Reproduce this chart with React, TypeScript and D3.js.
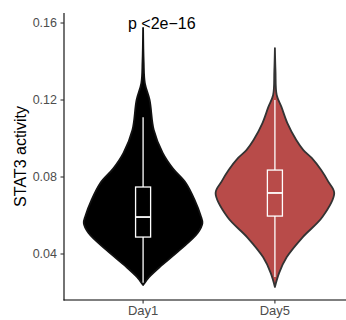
import React from "react";
import * as d3 from "d3";

const categories = ["Day1", "Day5"];
const fills = ["#000000", "#B84B49"];

// violin profiles: value and relative density (max = 1)
const day1Values = [0.0239, 0.026, 0.028, 0.0332, 0.0421, 0.0509, 0.056, 0.06, 0.068, 0.0769, 0.0845, 0.0925, 0.1044, 0.12, 0.1288, 0.14, 0.1574];
const day1Density = [0, 0.05, 0.1, 0.28, 0.62, 0.92, 1, 0.97, 0.87, 0.72, 0.5, 0.33, 0.18, 0.11, 0.03, 0.01, 0];
const day5Values = [0.0229, 0.0301, 0.0384, 0.0488, 0.0592, 0.0717, 0.0776, 0.0836, 0.0899, 0.094, 0.0992, 0.108, 0.1164, 0.1226, 0.135, 0.147];
const day5Density = [0, 0.07, 0.2, 0.47, 0.8, 1, 0.9, 0.78, 0.62, 0.48, 0.36, 0.21, 0.11, 0.03, 0.01, 0];

// box stats: [whiskerLow, q1, median, q3, whiskerHigh]
const day1Box = [0.025, 0.0488, 0.0592, 0.0748, 0.111];
const day5Box = [0.028, 0.0597, 0.0717, 0.0836, 0.12];

const yTicks = [0.04, 0.08, 0.12, 0.16];
const yTickLabels = ["0.04", "0.08", "0.12", "0.16"];
const pLabel = "p <2e\u221216";
const yTitle = "STAT3 activity";

const W = 346;
const H = 320;

export default function App() {
  const x = d3.scalePoint<string>().domain(categories).range([64, 354]).padding(0.6);
  const y = d3.scaleLinear().domain([0.0161, 0.1652]).range([300, 13]);
  const step = x.step();
  const halfW = d3.scaleLinear().domain([0, 1]).range([0, step * 0.45]);
  const boxHalf = step * 0.057;

  const profiles = [
    { values: day1Values, dens: day1Density, box: day1Box },
    { values: day5Values, dens: day5Density, box: day5Box },
  ];

  const font = "'Liberation Sans', Arial, Helvetica, sans-serif";

  return (
    <svg width={W} height={H} style={{ position: "absolute", left: 0, top: 0 }}>
      <rect x={0} y={0} width={W} height={H} fill="#fff" />
      {profiles.map((p, i) => {
        const cx = x(categories[i]) as number;
        const pts = p.values.map((v, j) => [v, p.dens[j]] as [number, number]);
        const area = d3
          .area<[number, number]>()
          .y((d) => y(d[0]))
          .x0((d) => cx - halfW(d[1]))
          .x1((d) => cx + halfW(d[1]))
          .curve(d3.curveCatmullRom.alpha(0.5));
        const [wl, q1, med, q3, wh] = p.box;
        return (
          <g key={i}>
            <path d={area(pts) || ""} fill={fills[i]} stroke={i === 0 ? "#111" : "#333"} strokeWidth={1.8} strokeLinejoin="round" />
            <line x1={cx} x2={cx} y1={y(q3)} y2={y(wh)} stroke="#fff" strokeWidth={1.3} />
            <line x1={cx} x2={cx} y1={y(q1)} y2={y(wl)} stroke="#fff" strokeWidth={1.3} />
            <rect x={cx - boxHalf} y={y(q3)} width={boxHalf * 2} height={y(q1) - y(q3)} fill="none" stroke="#fff" strokeWidth={1.3} />
            <line x1={cx - boxHalf} x2={cx + boxHalf} y1={y(med)} y2={y(med)} stroke="#fff" strokeWidth={1.8} />
          </g>
        );
      })}
      {/* axes */}
      <line x1={64} x2={64} y1={13} y2={300.5} stroke="#000" strokeWidth={1.1} />
      <line x1={63.5} x2={W} y1={300} y2={300} stroke="#000" strokeWidth={1.1} />
      {yTicks.map((t, i) => (
        <g key={t}>
          <line x1={60.5} x2={64} y1={y(t)} y2={y(t)} stroke="#333" strokeWidth={1.1} />
          <text x={57} y={y(t)} dy="0.35em" textAnchor="end" fontFamily={font} fontSize={12.5} fill="#4D4D4D">
            {yTickLabels[i]}
          </text>
        </g>
      ))}
      {categories.map((c) => (
        <g key={c}>
          <line x1={x(c)} x2={x(c)} y1={300} y2={303.5} stroke="#333" strokeWidth={1.1} />
          <text x={x(c)} y={315} textAnchor="middle" fontFamily={font} fontSize={13} fill="#4D4D4D">
            {c}
          </text>
        </g>
      ))}
      <text transform={`translate(26,${(13 + 300) / 2}) rotate(-90)`} textAnchor="middle" fontFamily={font} fontSize={16} fill="#000">
        {yTitle}
      </text>
      <text x={128} y={29} fontFamily={font} fontSize={16} fill="#000">
        {pLabel}
      </text>
    </svg>
  );
}
